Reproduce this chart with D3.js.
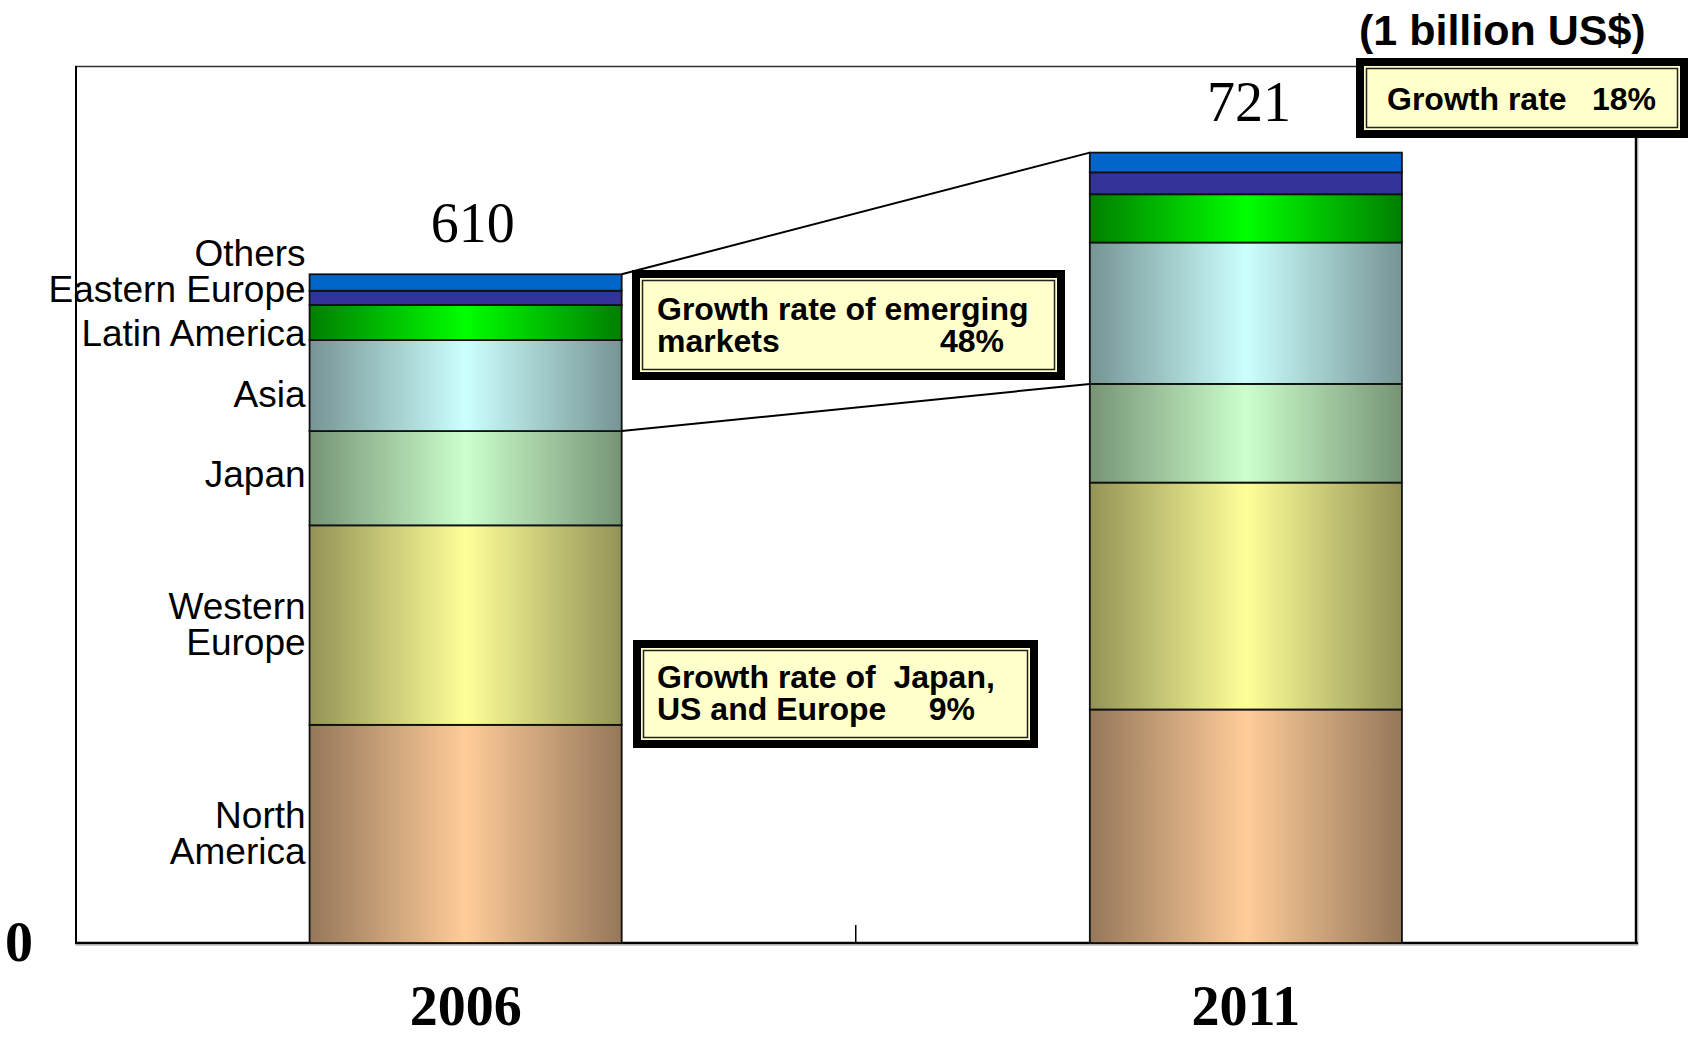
<!DOCTYPE html>
<html><head><meta charset="utf-8">
<script src="https://cdn.jsdelivr.net/npm/d3@7"></script>
<style>body{margin:0;background:#fff}svg{display:block}</style>
</head><body>
<svg id="chart" width="1690" height="1037"></svg>
<script>
// ---- data ----
const years = ["2006", "2011"];
const regions = ["North America", "Western Europe", "Japan", "Asia", "Latin America", "Eastern Europe", "Others"];
const regionLabels = [["North", "America"], ["Western", "Europe"], ["Japan"], ["Asia"], ["Latin America"], ["Eastern Europe"], ["Others"]];
const values2006 = [199, 182, 86, 83, 32, 13, 15];
const values2011 = [213, 207, 90, 129, 44, 20, 18];
const totalLabels = ["610", "721"];
const yTickValues = [0];
const unitLabel = "(1 billion US$)";
const totalGrowth = ["Growth rate", "18%"];
const emergingGrowth = ["Growth rate of emerging", "markets", "48%"];
const matureGrowth = ["Growth rate of  Japan,", "US and Europe", "9%"];

// ---- styles ----
const edgeColors = ["#95775a", "#939357", "#769475", "#769494", "#007f00", "#333399", "#0066cc"];
const centerColors = ["#ffcc99", "#ffff99", "#ccffcc", "#ccffff", "#00ff00", "#333399", "#0066cc"];
const sans = "'Liberation Sans', Arial, sans-serif";
const serif = "'Liberation Serif', 'Times New Roman', serif";

const svg = d3.select("#chart");
svg.append("rect").attr("width", 1690).attr("height", 1037).attr("fill", "#fff");

const x = d3.scaleBand().domain(years).range([75.5, 1636]).padding(0);
const y = d3.scaleLinear().domain([0, 800]).range([943, 66]);
const barW = x.bandwidth() * 0.4;
const barX = yr => x(yr) + (x.bandwidth() - barW) / 2;

const rows = years.map((yr, i) => {
  const o = { year: yr };
  const vals = i === 0 ? values2006 : values2011;
  regions.forEach((r, j) => o[r] = vals[j]);
  return o;
});
const series = d3.stack().keys(regions)(rows);

// gradients
const defs = svg.append("defs");
regions.forEach((r, j) => {
  const g = defs.append("linearGradient").attr("id", "grad" + j)
    .attr("x1", 0).attr("x2", 1).attr("y1", 0).attr("y2", 0);
  g.append("stop").attr("offset", "0%").attr("stop-color", edgeColors[j]);
  g.append("stop").attr("offset", "50%").attr("stop-color", centerColors[j]);
  g.append("stop").attr("offset", "100%").attr("stop-color", edgeColors[j]);
});

// frame
const frame = svg.append("g");
frame.append("line").attr("x1", 75).attr("x2", 1636).attr("y1", 66.5).attr("y2", 66.5).attr("stroke", "#333").attr("stroke-width", 1.6);
frame.append("line").attr("x1", 76).attr("x2", 76).attr("y1", 66).attr("y2", 944).attr("stroke", "#000").attr("stroke-width", 2);
frame.append("line").attr("x1", 1636).attr("x2", 1636).attr("y1", 66).attr("y2", 944).attr("stroke", "#000").attr("stroke-width", 2.4);
frame.append("line").attr("x1", 1637.8).attr("x2", 1637.8).attr("y1", 68).attr("y2", 945).attr("stroke", "#999").attr("stroke-width", 1);

// bars
svg.append("g").selectAll("g").data(series).join("g")
  .attr("fill", (d, j) => `url(#grad${j})`)
  .selectAll("rect").data(d => d).join("rect")
  .attr("x", d => barX(d.data.year))
  .attr("width", barW)
  .attr("y", d => y(d[1]))
  .attr("height", d => y(d[0]) - y(d[1]))
  .attr("stroke", "#111").attr("stroke-width", 1.8);

// bottom axis line + middle tick
frame.append("line").attr("x1", 75).attr("x2", 1638).attr("y1", 943).attr("y2", 943).attr("stroke", "#000").attr("stroke-width", 2.6);
frame.append("line").attr("x1", 76).attr("x2", 1638).attr("y1", 945).attr("y2", 945).attr("stroke", "#999").attr("stroke-width", 1);
svg.append("line").attr("x1", x(years[1])).attr("x2", x(years[1])).attr("y1", 925).attr("y2", 943)
  .attr("stroke", "#000").attr("stroke-width", 1.5);

// axes
const yAxis = svg.append("g").attr("transform", "translate(76,0)")
  .call(d3.axisLeft(y).tickValues(yTickValues).tickSize(0).tickPadding(43));
yAxis.select(".domain").remove();
yAxis.selectAll("text").attr("font-family", serif).attr("font-weight", "bold").attr("font-size", 56).attr("fill", "#000");

const xAxis = svg.append("g").attr("transform", "translate(0,943)")
  .call(d3.axisBottom(x).tickSize(0).tickPadding(42));
xAxis.select(".domain").remove();
xAxis.selectAll("text").attr("font-family", serif).attr("font-weight", "bold").attr("font-size", 56).attr("fill", "#000");

// totals
const totalShift = [7, 3];
svg.append("g").selectAll("text").data(rows).join("text")
  .attr("x", (d, i) => barX(d.year) + barW / 2 + totalShift[i])
  .attr("y", (d, i) => y(series[series.length - 1][i][1]) - 32)
  .attr("text-anchor", "middle")
  .attr("font-family", serif).attr("font-size", 56).attr("fill", "#000")
  .text((d, i) => totalLabels[i]);

// connector lines
const leftRight = barX(years[0]) + barW;
const rightLeft = barX(years[1]);
const topIdx = regions.length - 1, matureIdx = 2;
[[series[topIdx][0][1], series[topIdx][1][1]], [series[matureIdx][0][1], series[matureIdx][1][1]]].forEach(([a, b]) => {
  svg.append("line").attr("x1", leftRight).attr("y1", y(a)).attr("x2", rightLeft).attr("y2", y(b))
    .attr("stroke", "#000").attr("stroke-width", 2);
});

// region labels (left of 2006 bar)
const labelNudge = [-1, -1, -4, 8.5, 10.5, -9, -30];
const lineH = 36;
const labelX = barX(years[0]) - 4;
series.forEach((s, j) => {
  const d = s[0];
  const mid = (y(d[0]) + y(d[1])) / 2;
  const lines = regionLabels[j];
  const first = mid - (lines.length - 1) * lineH / 2 + 13.3 + labelNudge[j];
  const t = svg.append("text").attr("text-anchor", "end")
    .attr("font-family", sans).attr("font-size", 37).attr("fill", "#000");
  lines.forEach((ln, k) => t.append("tspan").attr("x", labelX).attr("y", first + k * lineH).text(ln));
});

// annotation boxes
function box(x0, y0, x1, y1) {
  const g = svg.append("g");
  g.append("rect").attr("x", x0 + 4).attr("y", y0 + 4).attr("width", x1 - x0 - 8).attr("height", y1 - y0 - 8)
    .attr("fill", "#ffffcc").attr("stroke", "#000").attr("stroke-width", 8);
  g.append("rect").attr("x", x0 + 10.5).attr("y", y0 + 10.5).attr("width", x1 - x0 - 21).attr("height", y1 - y0 - 21)
    .attr("fill", "none").attr("stroke", "#222").attr("stroke-width", 1.5);
  return g;
}
function boxText(g, str, xx, yy, anchor) {
  g.append("text").attr("x", xx).attr("y", yy).attr("text-anchor", anchor || "start")
    .attr("font-family", sans).attr("font-weight", "bold").attr("font-size", 32).attr("fill", "#000")
    .style("white-space", "pre").text(str);
}
const b1 = box(632, 270, 1065, 380);
boxText(b1, emergingGrowth[0], 657, 320);
boxText(b1, emergingGrowth[1], 657, 352);
boxText(b1, emergingGrowth[2], 1004, 352, "end");

const b2 = box(633, 640, 1038, 748);
boxText(b2, matureGrowth[0], 657, 688);
boxText(b2, matureGrowth[1], 657, 720);
boxText(b2, matureGrowth[2], 975, 720, "end");

const b3 = box(1356, 58, 1688, 138);
boxText(b3, totalGrowth[0], 1387, 110);
boxText(b3, totalGrowth[1], 1656, 110, "end");

// unit label
svg.append("text").attr("x", 1359).attr("y", 45)
  .attr("font-family", sans).attr("font-weight", "bold").attr("font-size", 43).attr("fill", "#000")
  .text(unitLabel);
</script>
</body></html>
